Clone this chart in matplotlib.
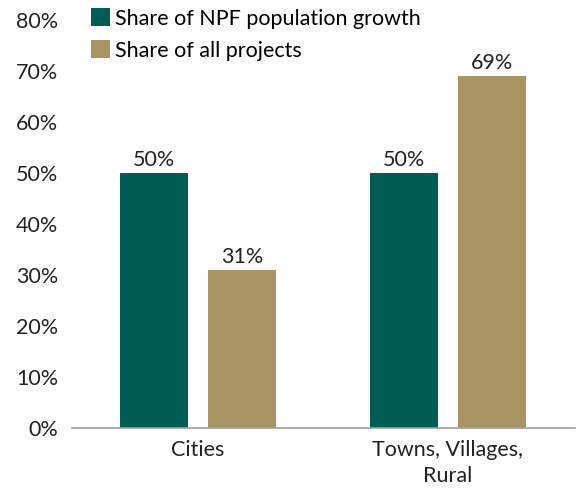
import matplotlib.pyplot as plt
import numpy as np

plt.rcParams['font.family'] = ['Lato', 'DejaVu Sans']

categories = ['Cities', 'Towns, Villages,\nRural']
npf_growth = [50, 50]
all_projects = [31, 69]
series_labels = ['Share of NPF population growth', 'Share of all projects']
colors = ['#005C55', '#A99563']

fig = plt.figure(figsize=(5.77, 4.88), dpi=100)
ax = fig.add_axes([0.1248, 0.123, 0.8717, 0.836])

x = np.arange(len(categories))
w = 0.272
b1 = ax.bar(x - 0.175, npf_growth, w, color=colors[0], label=series_labels[0])
b2 = ax.bar(x + 0.175, all_projects, w, color=colors[1], label=series_labels[1])

for bars in (b1, b2):
    for bar in bars:
        h = bar.get_height()
        ax.text(bar.get_x() + bar.get_width() / 2, h + 0.6, f'{h:.0f}%',
                ha='center', va='bottom', fontsize=15.5, color='#222222')

ax.set_ylim(0, 80)
ax.set_xlim(-0.504, 1.508)
ax.set_yticks(range(0, 81, 10))
ax.set_yticklabels([f'{v}%' for v in range(0, 81, 10)])
ax.set_xticks(x)
ax.set_xticklabels(categories, linespacing=1.35)
ax.tick_params(axis='both', length=0, labelsize=15.5, colors='#222222')
ax.tick_params(axis='x', pad=9)
ax.tick_params(axis='y', pad=10)

for s in ['top', 'right', 'left']:
    ax.spines[s].set_visible(False)
ax.spines['bottom'].set_color('#A0A0A0')
ax.spines['bottom'].set_linewidth(1.2)

ax.legend(loc='upper left', bbox_to_anchor=(0.02, 1.05), frameon=False, fontsize=15.5,
          handlelength=0.9, handleheight=0.9, handletextpad=0.25, labelspacing=0.55,
          borderaxespad=0)

fig.savefig('out.png', dpi=100)
